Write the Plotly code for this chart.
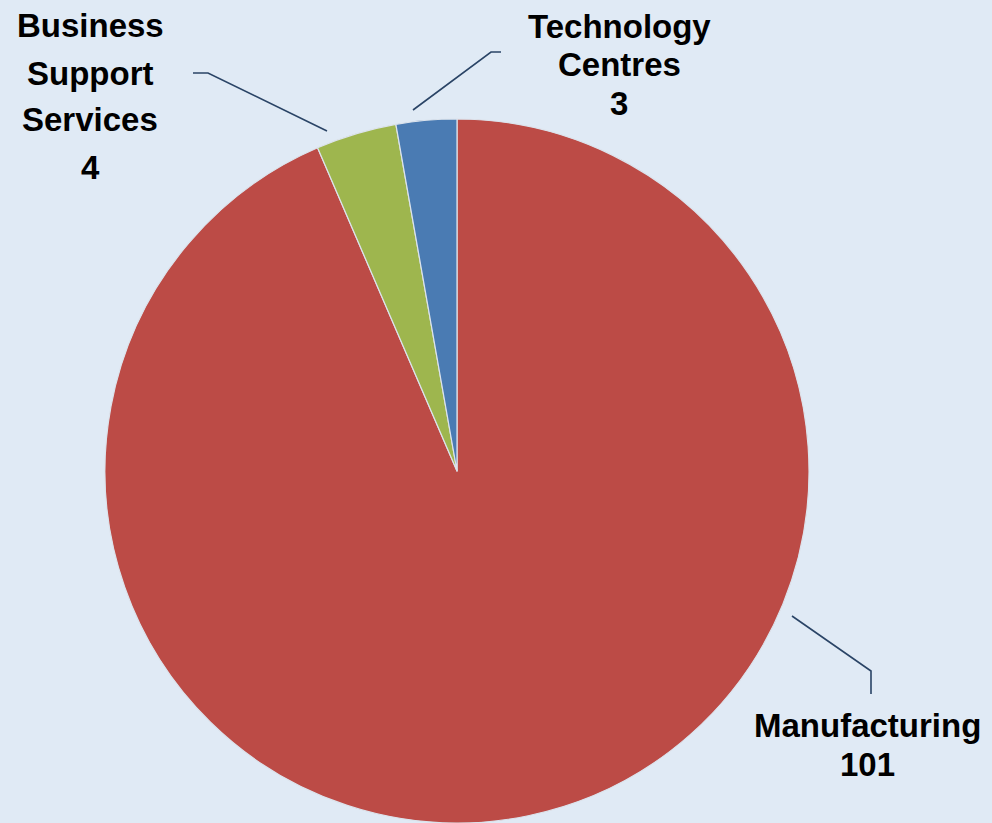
import plotly.graph_objects as go

# ---- data ----
categories = ["Manufacturing", "Business Support Services", "Technology Centres"]
values = [101, 4, 3]
label_names = ["Manufacturing", "Business\nSupport\nServices", "Technology\nCentres"]
colors = ["#BC4B46", "#9EB64E", "#4A7BB3"]

W, H = 992, 823
BG = "#E0EAF5"

# label layout (pixel): centre x, first line centre y, line spacing
label_pos = {
    "Manufacturing": (867, 725, 39),
    "Business Support Services": (90, 26, 47),
    "Technology Centres": (619, 27, 38),
}
# leader lines (pixel polylines)
leaders = {
    "Manufacturing": [(792, 616), (871, 671), (871, 694)],
    "Business Support Services": [(327, 131), (208, 73), (193, 73)],
    "Technology Centres": [(413, 110), (491, 52), (501, 52)],
}

def px(x):
    return x / W

def py(y):
    return 1 - y / H

cx, cy, r = 457, 471, 352

fig = go.Figure(
    go.Pie(
        labels=categories,
        values=values,
        sort=False,
        direction="clockwise",
        rotation=0,
        marker=dict(colors=colors, line=dict(color="#DCE3EC", width=1.2)),
        textinfo="none",
        hoverinfo="label+value",
        domain=dict(x=[px(cx - r), px(cx + r)], y=[py(cy + r), py(cy - r)]),
        showlegend=False,
    )
)

annotations = []
for cat, name, val in zip(categories, label_names, values):
    x0, y0, sp = label_pos[cat]
    lines = name.split("\n") + [str(val)]
    for i, t in enumerate(lines):
        annotations.append(
            dict(
                x=px(x0), y=py(y0 + i * sp), xref="paper", yref="paper",
                text="<b>%s</b>" % t, showarrow=False,
                xanchor="center", yanchor="middle",
                font=dict(family="Arial, Liberation Sans, sans-serif", size=33, color="#000000"),
            )
        )

shapes = []
for cat in categories:
    pts = leaders[cat]
    path = "M %f %f " % (px(pts[0][0]), py(pts[0][1])) + " ".join(
        "L %f %f" % (px(a), py(b)) for a, b in pts[1:]
    )
    shapes.append(
        dict(type="path", path=path, xref="paper", yref="paper",
             line=dict(color="#2A4466", width=1.6))
    )

fig.update_layout(
    width=W, height=H,
    margin=dict(l=0, r=0, t=0, b=0),
    paper_bgcolor=BG, plot_bgcolor=BG,
    annotations=annotations, shapes=shapes,
)

fig.write_html("out.html")
